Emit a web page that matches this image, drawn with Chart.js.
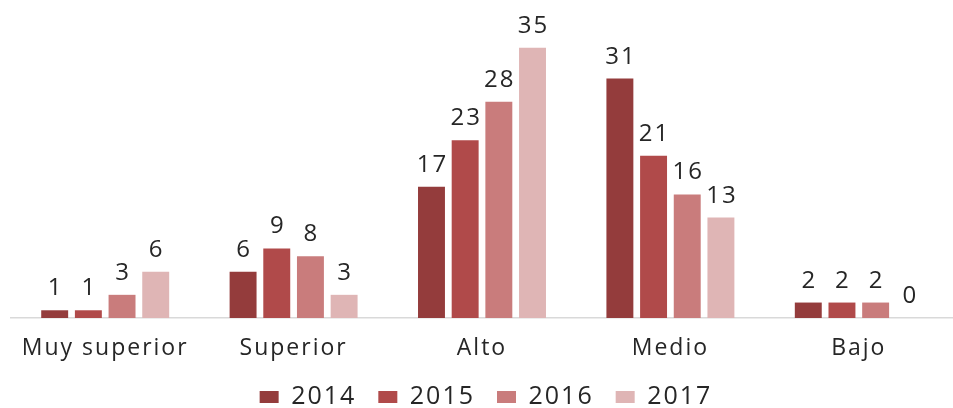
<html>
<head>
<script src="https://cdn.jsdelivr.net/npm/chart.js@4.4.0/dist/chart.umd.min.js"></script>
<style>
  body { margin: 0; background: #fff; overflow: hidden; }
  #wrap { width: 953px; height: 408px; }
</style>
</head>
<body>
<div id="wrap"><canvas id="myChart"></canvas></div>
<script>
const categories = ['Muy superior', 'Superior', 'Alto', 'Medio', 'Bajo'];
const years = ['2014', '2015', '2016', '2017'];
const values2014 = [1, 6, 17, 31, 2];
const values2015 = [1, 9, 23, 21, 2];
const values2016 = [3, 8, 28, 16, 2];
const values2017 = [6, 3, 35, 13, 0];
const colors = ['#943c3c', '#b04a4a', '#c97c7c', '#dfb5b5'];

const seriesValues = [values2014, values2015, values2016, values2017];

// the original text is drawn a bit wide, so space the letters out a little
const wideText = {
    id: 'wideText',
    beforeLayout(chart) { chart.ctx.letterSpacing = '2px'; },
    beforeDraw(chart) { chart.ctx.letterSpacing = '2px'; }
};

// value labels above each bar
const barLabels = {
    id: 'barLabels',
    afterDatasetsDraw(chart) {
        const ctx = chart.ctx;
        ctx.save();
        ctx.font = '24px "Open Sans", sans-serif';
        ctx.fillStyle = '#262626';
        ctx.textAlign = 'center';
        ctx.textBaseline = 'alphabetic';
        chart.data.datasets.forEach((ds, i) => {
            chart.getDatasetMeta(i).data.forEach((bar, j) => {
                ctx.fillText(ds.data[j], bar.x + 1, bar.y - 15);
            });
        });
        ctx.restore();
    }
};

Chart.defaults.font.family = '"Open Sans", sans-serif';
Chart.defaults.color = '#262626';

new Chart(document.getElementById('myChart'), {
    type: 'bar',
    data: {
        labels: categories,
        datasets: years.map((y, i) => ({
            label: y,
            data: seriesValues[i],
            backgroundColor: colors[i],
            categoryPercentage: 0.715,
            barPercentage: 0.8
        }))
    },
    options: {
        responsive: true,
        maintainAspectRatio: false,
        animation: false,
        layout: { padding: { left: 11, right: -8, top: 9, bottom: -11.5 } },
        scales: {
            x: {
                grid: { display: false, drawTicks: false },
                border: { color: '#d9d9d9', width: 1.5 },
                ticks: { font: { size: 23 }, color: '#262626', padding: 17, maxRotation: 0 },
                afterFit(scale) { scale.height = 44.5; }
            },
            y: {
                display: false,
                min: 0,
                max: 40
            }
        },
        plugins: {
            legend: {
                position: 'bottom',
                labels: {
                    boxWidth: 19,
                    boxHeight: 12,
                    font: { size: 25 },
                    padding: 22
                }
            },
            tooltip: { enabled: false }
        }
    },
    plugins: [wideText, barLabels]
});
</script>
</body>
</html>
